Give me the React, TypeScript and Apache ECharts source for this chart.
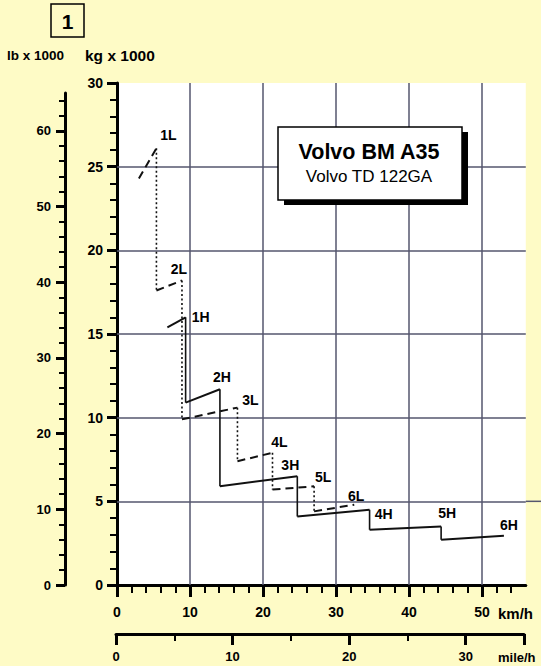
import React, { useEffect, useRef } from 'react';
import * as echarts from 'echarts';

// ---- data (speed km/h, tractive force kg x 1000) ----
const lowGearNames = ['1L', '2L', '3L', '4L', '5L', '6L'];
const lowGearStart = [[3.0, 24.3], [5.4, 17.6], [8.9, 9.9], [16.5, 7.4], [21.3, 5.7], [27.0, 4.4]];
const lowGearEnd = [[5.4, 26.1], [8.9, 18.2], [16.5, 10.6], [21.3, 7.9], [27.0, 5.9], [32.5, 4.8]];

const highGearNames = ['1H', '2H', '3H', '4H', '5H', '6H'];
const highGearStart = [[6.9, 15.4], [9.4, 10.9], [14.1, 5.9], [24.7, 4.1], [34.6, 3.3], [44.4, 2.7]];
const highGearEnd = [[9.4, 16.0], [14.1, 11.7], [24.7, 6.5], [34.6, 4.5], [44.4, 3.5], [53.0, 2.95]];

// ---- axes ----
const kmhMajorTicks = [0, 10, 20, 30, 40, 50];
const kmhMinorTicks = [2, 4, 6, 8, 12, 14, 16, 18, 22, 24, 26, 28, 32, 34, 36, 38, 42, 44, 46, 48, 52, 54];
const kmhGridLines = [10, 20, 30, 40, 50];
const kgMajorTicks = [0, 5, 10, 15, 20, 25, 30];
const kgMinorTicks = [1, 2, 3, 4, 6, 7, 8, 9, 11, 12, 13, 14, 16, 17, 18, 19, 21, 22, 23, 24, 26, 27, 28, 29];
const kgGridLines = [5, 10, 15, 20, 25];
const lbMajorTicks = [0, 10, 20, 30, 40, 50, 60];
const lbMinorTicks = [2, 4, 6, 8, 12, 14, 16, 18, 22, 24, 26, 28, 32, 34, 36, 38, 42, 44, 46, 48, 52, 54, 56, 58, 62, 64];
const mphMajorTicks = [0, 10, 20, 30, 35];
const mphLabels = [0, 10, 20, 30];
const mphMinorTicks = [5, 15, 25];

// ---- styles (label offsets in px from each gear's end point) ----
const labelOffsets: Record<string, number[]> = {
  '1L': [12, -13], '2L': [-3, -11], '3L': [13, -8], '4L': [7, -11], '5L': [9, -9], '6L': [2, -9],
  '1H': [15, 0], '2H': [2, -12], '3H': [-7, -11], '4H': [14, 4], '5H': [6, -13], '6H': [5, -11],
};

const FONT = '"Liberation Sans", Arial, Helvetica, sans-serif';
const INK = '#000000';
const GRIDC = '#55566e';
const BG = '#fefbc6';

export default function App() {
  const ref = useRef<HTMLDivElement>(null);

  useEffect(() => {
    if (!ref.current) return;
    const chart = echarts.init(ref.current, undefined, { renderer: 'svg' });

    const series: any[] = [];
    // grid lines (via markLine on the axes)
    series.push({
      type: 'line',
      xAxisIndex: 0,
      yAxisIndex: 0,
      data: [],
      silent: true,
      markLine: {
        silent: true,
        z: 1,
        symbol: ['none', 'none'],
        label: { show: false },
        emphasis: { disabled: true },
        lineStyle: { color: GRIDC, width: 1.5, type: 'solid' },
        data: [
          ...kmhGridLines.map((v) => ({ xAxis: v })),
          ...kgGridLines.map((v) => ({ yAxis: v })),
        ],
      },
    });

    const seg = (data: number[][], type: any, width: number) => ({
      type: 'line',
      xAxisIndex: 0,
      yAxisIndex: 0,
      data,
      z: 3,
      silent: true,
      showSymbol: false,
      symbol: 'none',
      lineStyle: { color: '#111111', width, type, cap: 'butt' },
    });

    lowGearNames.forEach((_, i) => {
      series.push(seg([lowGearStart[i], lowGearEnd[i]], [8, 5], 2));
      if (i < lowGearNames.length - 1) series.push(seg([lowGearEnd[i], lowGearStart[i + 1]], [2, 2.5], 1.6));
    });
    highGearNames.forEach((_, i) => {
      series.push(seg([highGearStart[i], highGearEnd[i]], 'solid', 2));
      if (i < highGearNames.length - 1) series.push(seg([highGearEnd[i], highGearStart[i + 1]], 'solid', 1.6));
    });

    const labelData = [
      ...lowGearNames.map((n, i) => ({ n, p: lowGearEnd[i] })),
      ...highGearNames.map((n, i) => ({ n, p: highGearEnd[i] })),
    ].map(({ n, p }) => ({
      value: p,
      name: n,
      label: { offset: labelOffsets[n] },
    }));
    series.push({
      type: 'scatter',
      xAxisIndex: 0,
      yAxisIndex: 0,
      z: 4,
      silent: true,
      symbolSize: 1,
      itemStyle: { color: 'rgba(0,0,0,0)' },
      data: labelData,
      label: {
        show: true,
        position: 'inside',
        formatter: (p: any) => p.name,
        fontFamily: FONT,
        fontWeight: 'bold',
        fontSize: 14,
        color: INK,
        opacity: 1,
        textBorderWidth: 0,
      },
    });

    const tickLabel = (size: number, margin: number) => ({
      fontFamily: FONT,
      fontWeight: 'bold',
      fontSize: size,
      color: INK,
      margin,
    });

    const option: any = {
      animation: false,
      backgroundColor: BG,
      grid: [
        { left: 117, top: 83, width: 408.8, bottom: 81, show: true, backgroundColor: '#ffffff', borderWidth: 0, outerBoundsMode: 'none', containLabel: false },
        { left: 65, top: 93, width: 10, bottom: 81, outerBoundsMode: 'none', containLabel: false },
        { left: 116, top: 633, width: 408, height: 1, outerBoundsMode: 'none', containLabel: false },
      ],
      xAxis: [
        {
          type: 'value', gridIndex: 0, min: 0, max: 56, position: 'bottom',
          axisLine: { show: true, onZero: false, lineStyle: { color: INK, width: 3 } },
          axisTick: { show: true, customValues: kmhMajorTicks, length: 12, lineStyle: { color: INK, width: 3 } },
          axisLabel: { show: true, customValues: kmhMajorTicks, ...tickLabel(14, 20) },
          splitLine: { show: false },
        },
        {
          type: 'value', gridIndex: 0, min: 0, max: 56, position: 'bottom',
          axisLine: { show: false, onZero: false },
          axisTick: { show: true, customValues: kmhMinorTicks, length: 8, lineStyle: { color: INK, width: 2 } },
          axisLabel: { show: false },
          splitLine: { show: false },
        },
        { type: 'value', gridIndex: 1, min: 0, max: 1, show: false },
        {
          type: 'value', gridIndex: 2, min: 0, max: 35, position: 'bottom',
          axisLine: { show: true, onZero: false, lineStyle: { color: INK, width: 3 } },
          axisTick: { show: true, customValues: mphMajorTicks, length: 11, lineStyle: { color: INK, width: 3 } },
          axisLabel: { show: true, customValues: mphLabels, ...tickLabel(13, 16) },
          splitLine: { show: false },
        },
        {
          type: 'value', gridIndex: 2, min: 0, max: 35, position: 'bottom',
          axisLine: { show: false, onZero: false },
          axisTick: { show: true, customValues: mphMinorTicks, length: 7, lineStyle: { color: INK, width: 2 } },
          axisLabel: { show: false },
          splitLine: { show: false },
        },
      ],
      yAxis: [
        {
          type: 'value', gridIndex: 0, min: 0, max: 30, position: 'left',
          axisLine: { show: true, onZero: false, lineStyle: { color: INK, width: 3 } },
          axisTick: { show: true, customValues: kgMajorTicks, length: 10, lineStyle: { color: INK, width: 3 } },
          axisLabel: { show: true, customValues: kgMajorTicks, ...tickLabel(14, 14) },
          splitLine: { show: false },
        },
        {
          type: 'value', gridIndex: 0, min: 0, max: 30, position: 'left',
          axisLine: { show: false, onZero: false },
          axisTick: { show: true, customValues: kgMinorTicks, length: 7, lineStyle: { color: INK, width: 2 } },
          axisLabel: { show: false },
          splitLine: { show: false },
        },
        {
          type: 'value', gridIndex: 1, min: 0, max: 65, position: 'left',
          axisLine: { show: true, onZero: false, lineStyle: { color: INK, width: 3 } },
          axisTick: { show: true, customValues: lbMajorTicks, length: 9, lineStyle: { color: INK, width: 3 } },
          axisLabel: { show: true, customValues: lbMajorTicks, ...tickLabel(13, 14) },
          splitLine: { show: false },
        },
        {
          type: 'value', gridIndex: 1, min: 0, max: 65, position: 'left',
          axisLine: { show: false, onZero: false },
          axisTick: { show: true, customValues: lbMinorTicks, length: 6, lineStyle: { color: INK, width: 2 } },
          axisLabel: { show: false },
          splitLine: { show: false },
        },
        { type: 'value', gridIndex: 2, min: 0, max: 1, show: false },
      ],
      series,
      graphic: [
        { type: 'rect', shape: { x: 51, y: 4, width: 33, height: 33 }, style: { fill: 'none', stroke: INK, lineWidth: 1.5 } },
        { type: 'text', x: 67.5, y: 21, style: { text: '1', font: `bold 21px ${FONT}`, fill: INK, align: 'center', verticalAlign: 'middle' } },
        { type: 'text', x: 7, y: 55, style: { text: 'lb x 1000', font: `bold 13.5px ${FONT}`, fill: INK, align: 'left', verticalAlign: 'middle' } },
        { type: 'text', x: 85, y: 55, style: { text: 'kg x 1000', font: `bold 15.5px ${FONT}`, fill: INK, align: 'left', verticalAlign: 'middle' } },
        { type: 'text', x: 498, y: 613, style: { text: 'km/h', font: `bold 15px ${FONT}`, fill: INK, align: 'left', verticalAlign: 'middle' } },
        { type: 'text', x: 498, y: 657, style: { text: 'mile/h', font: `bold 13px ${FONT}`, fill: INK, align: 'left', verticalAlign: 'middle' } },
        { type: 'rect', z: 10, shape: { x: 284, y: 132, width: 184, height: 73 }, style: { fill: '#000000' } },
        { type: 'rect', z: 11, shape: { x: 278, y: 127, width: 184, height: 73 }, style: { fill: '#ffffff', stroke: INK, lineWidth: 1.5 } },
        { type: 'text', z: 12, x: 369, y: 152, style: { text: 'Volvo BM A35', font: `bold 21.5px ${FONT}`, fill: INK, align: 'center', verticalAlign: 'middle' } },
        { type: 'text', z: 12, x: 369, y: 176, style: { text: 'Volvo TD 122GA', font: `17px ${FONT}`, fill: INK, align: 'center', verticalAlign: 'middle' } },
      ],
    };

    chart.setOption(option);

    // extend the 5 kg grid line past the plot's right edge, as in the original
    const p = chart.convertToPixel({ gridIndex: 0 }, [56, 5]) as number[];
    if (p) {
      chart.setOption({
        graphic: [
          ...option.graphic,
          { type: 'line', z: 1, shape: { x1: p[0], y1: p[1], x2: 541, y2: p[1] }, style: { stroke: GRIDC, lineWidth: 1.5 } },
        ],
      });
    }

    return () => chart.dispose();
  }, []);

  return <div ref={ref} style={{ position: 'fixed', left: 0, top: 0, width: 541, height: 666 }} />;
}
